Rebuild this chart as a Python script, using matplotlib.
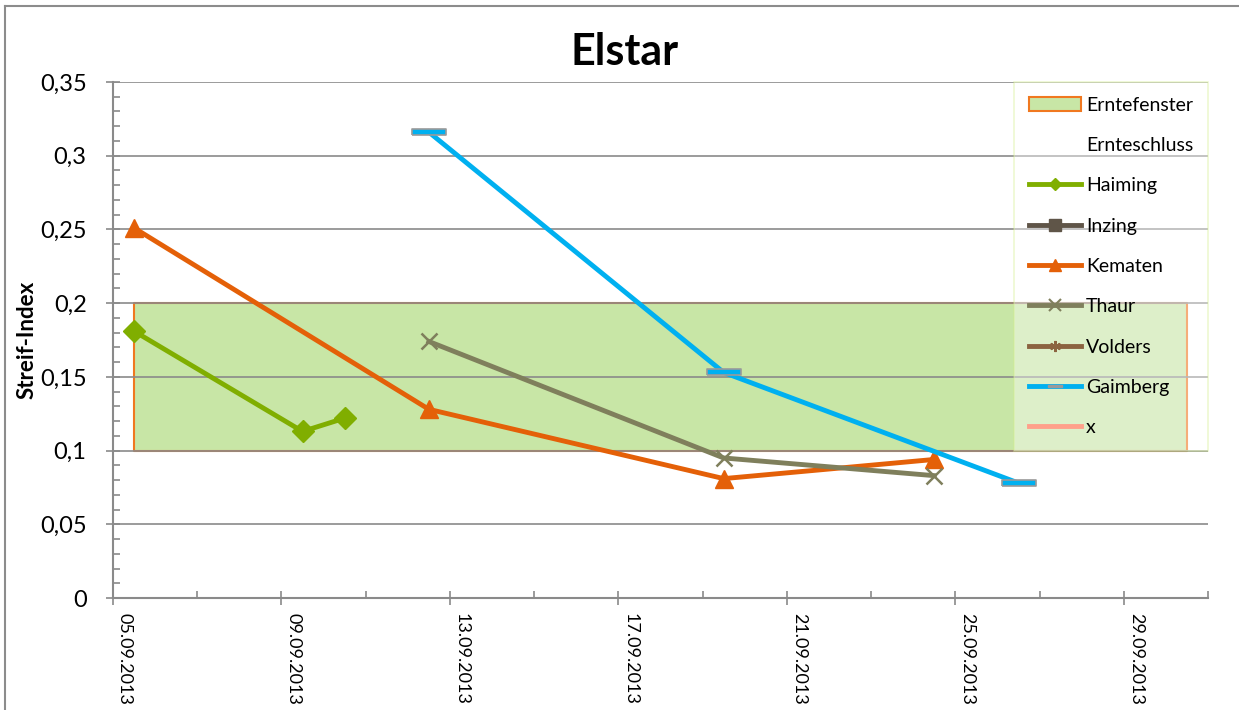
import matplotlib
matplotlib.use("Agg")
import matplotlib.pyplot as plt
import matplotlib.transforms as mtransforms
from matplotlib.ticker import MultipleLocator, FuncFormatter
import matplotlib.dates as mdates
from matplotlib.patches import Patch
from matplotlib.lines import Line2D
import pandas as pd

plt.rcParams['font.family'] = ['Lato', 'DejaVu Sans']

# Daten
haiming_dates = ['2013-09-05 12:00', '2013-09-09 12:00', '2013-09-10 12:00']
haiming_vals = [0.181, 0.113, 0.122]

kematen_dates = ['2013-09-05 12:00', '2013-09-12 12:00', '2013-09-19 12:00', '2013-09-24 12:00']
kematen_vals = [0.251, 0.128, 0.081, 0.094]

thaur_dates = ['2013-09-12 12:00', '2013-09-19 12:00', '2013-09-24 12:00']
thaur_vals = [0.174, 0.095, 0.083]

gaimberg_dates = ['2013-09-12 12:00', '2013-09-19 12:00', '2013-09-26 12:00']
gaimberg_vals = [0.316, 0.153, 0.078]

# Erntefenster
window_dates = ['2013-09-05 12:00', '2013-09-30 12:00']
window_low = 0.1
window_high = 0.2

x_start = '2013-09-05'
x_end = '2013-10-01'
major_days = ['2013-09-05', '2013-09-09', '2013-09-13', '2013-09-17',
              '2013-09-21', '2013-09-25', '2013-09-29']
minor_days = ['2013-09-07', '2013-09-11', '2013-09-15', '2013-09-19',
              '2013-09-23', '2013-09-27', '2013-10-01']

fig = plt.figure(figsize=(12.39, 7.10), dpi=100)
ax = fig.add_axes([0.0912, 0.1577, 0.8838, 0.7268])

# Rahmen des Diagrammbereichs
fig.add_artist(Line2D([5/1239, 5/1239], [0, 704/710], color='#8c8c8c', lw=1.5, transform=fig.transFigure))
fig.add_artist(Line2D([5/1239, 1], [704/710, 704/710], color='#8c8c8c', lw=1.5, transform=fig.transFigure))

wd = pd.to_datetime(window_dates)
ax.fill_between(wd, window_low, window_high, facecolor='#c8e6a6', edgecolor='#f07820',
                linewidth=1.5, zorder=1)

ax.plot(pd.to_datetime(haiming_dates), haiming_vals, color='#80ae00', lw=3.5,
        marker='D', markersize=11, zorder=4)
ax.plot(pd.to_datetime(kematen_dates), kematen_vals, color='#e46008', lw=3.5,
        marker='^', markersize=13, zorder=4)
ax.plot(pd.to_datetime(thaur_dates), thaur_vals, color='#7f7f5c', lw=3.5,
        marker='x', markersize=12, markeredgewidth=1.8, zorder=4)
bar_marker = [(-3, -0.6), (3, -0.6), (3, 0.6), (-3, 0.6), (-3, -0.6)]
ax.plot(pd.to_datetime(gaimberg_dates), gaimberg_vals, color='#00b0f0', lw=3.5,
        marker=bar_marker, markersize=24, markeredgecolor='#9a9a9a', markeredgewidth=1.2, zorder=4)

ax.set_xlim(pd.Timestamp(x_start), pd.Timestamp(x_end))
ax.set_ylim(0, 0.35)

ax.yaxis.set_major_locator(MultipleLocator(0.05))
ax.yaxis.set_minor_locator(MultipleLocator(0.01))
ax.yaxis.set_major_formatter(FuncFormatter(lambda v, p: ('%g' % round(v, 2)).replace('.', ',')))

ax.set_xticks([pd.Timestamp(d) for d in major_days])
ax.set_xticks([pd.Timestamp(d) for d in minor_days], minor=True)
ax.xaxis.set_major_formatter(mdates.DateFormatter('%d.%m.%Y'))

ax.grid(axis='y', which='major', color='#8a8a8a', lw=1.2, zorder=2)
ax.set_axisbelow(False)
for s in ['top', 'right']:
    ax.spines[s].set_visible(False)
for s in ['left', 'bottom']:
    ax.spines[s].set_color('#8a8a8a')
    ax.spines[s].set_linewidth(1.5)
    ax.spines[s].set_zorder(3)

ax.tick_params(axis='both', which='major', direction='inout', length=10, width=1.2,
               color='#8a8a8a', labelsize=17)
ax.tick_params(axis='y', which='major', pad=14)
ax.tick_params(axis='both', which='minor', direction='in', length=5, width=1.2, color='#8a8a8a')
ax.tick_params(axis='x', which='major', labelsize=13, pad=6)

# Datumsbeschriftungen etwas nach rechts versetzt
shift = mtransforms.ScaledTranslation(12/100, 0, fig.dpi_scale_trans)
for lab in ax.get_xticklabels():
    lab.set_rotation(-90)
    lab.set_ha('center')
    lab.set_va('top')
    lab.set_transform(lab.get_transform() + shift)

ax.set_ylabel('Streif-Index', fontsize=16, fontweight='bold', labelpad=2)
fig.text(0.504, 0.927, 'Elstar', fontsize=31, fontweight='bold', ha='center', va='center')

handles = [
    Patch(facecolor='#c8e6a6', edgecolor='#f07820', linewidth=1.5),
    Line2D([], [], linestyle='none'),
    Line2D([], [], color='#80ae00', lw=3.5, marker='D', markersize=6),
    Line2D([], [], color='#5f5548', lw=3.5, marker='s', markersize=8),
    Line2D([], [], color='#e46008', lw=3.5, marker='^', markersize=8),
    Line2D([], [], color='#7f7f5c', lw=3.5, marker='x', markersize=8, markeredgewidth=1.5),
    Line2D([], [], color='#8b6340', lw=3.5, marker=(6, 2, 0), markersize=8, markeredgewidth=1.5),
    Line2D([], [], color='#00b0f0', lw=3.5, marker=bar_marker, markersize=10,
           markerfacecolor='#9a9a9a', markeredgecolor='#9a9a9a'),
    Line2D([], [], color='#ffa08a', lw=3.5),
]
labels = ['Erntefenster', 'Ernteschluss', 'Haiming', 'Inzing', 'Kematen', 'Thaur',
          'Volders', 'Gaimberg', 'x']
leg = ax.legend(handles, labels, loc='upper right', bbox_to_anchor=(1.0, 1.0),
                borderaxespad=0, fontsize=14, handlelength=2.7, handletextpad=0.25,
                labelspacing=1.2, frameon=True, fancybox=False, framealpha=0.4,
                edgecolor='#d4ef8c', borderpad=0.75)
leg.get_frame().set_linewidth(1.2)
leg.set_zorder(5)

fig.savefig('out.png', dpi=100)
